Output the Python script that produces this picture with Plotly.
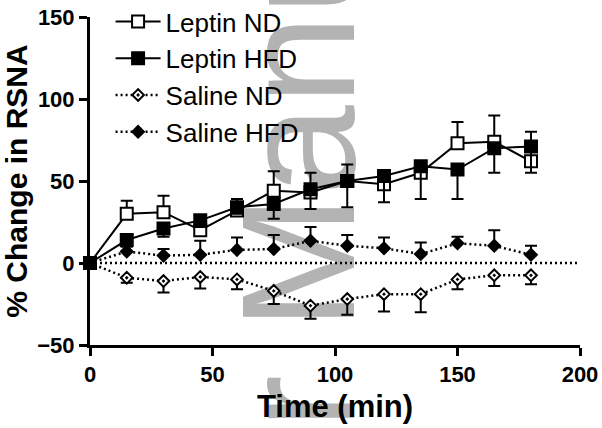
import plotly.graph_objects as go

time_min = [0, 15, 30, 45, 60, 75, 90, 105, 120, 135, 150, 165, 180]

leptin_nd = [0, 30, 31, 20, 32, 44, 43, 50, 48, 55, 73, 74, 62]
leptin_nd_err = [0, 8, 10, 5, 7, 12, 12, 10, 6, 6, 13, 16, 18]

leptin_hfd = [0, 14, 21, 26, 34, 36, 45, 50, 53, 59, 57, 70, 71]
leptin_hfd_err = [0, 4, 5, 4, 4, 9, 12, 16, 16, 20, 18, 15, 16]

saline_nd = [0, -9, -11, -8.5, -10, -17, -26, -22, -19, -19, -10, -7.5, -7.5]
saline_nd_err = [0, 3, 7, 7, 6, 8, 8, 9.5, 10.5, 11, 6, 6.5, 5.5]

saline_hfd = [0, 7, 4.5, 5, 8, 8.5, 13.5, 10.5, 9, 5.5, 12, 10.5, 5]
saline_hfd_err = [0, 3, 4, 8.5, 7.5, 8.5, 8.5, 6.5, 6.5, 7, 4, 9.5, 5.5]

zero_x = [0, 200]
zero_y = [0, 0]

x_ticks = [0, 50, 100, 150, 200]
y_ticks = [-50, 0, 50, 100, 150]

FONT = "Liberation Sans, Arial, sans-serif"
zeros = [0] * len(time_min)

fig = go.Figure()

fig.add_trace(go.Scatter(
    x=zero_x, y=zero_y, mode="lines", showlegend=False, hoverinfo="skip",
    line=dict(color="black", width=2.5, dash="2px,3px"),
))

def add_series(name, y, err, up, symbol, fill, dash, msize, lw):
    fig.add_trace(go.Scatter(
        x=time_min, y=y, name=name, mode="lines+markers", cliponaxis=False,
        line=dict(color="black", width=2 if dash == "solid" else 2.5, dash=dash),
        marker=dict(symbol=symbol, size=msize, color=fill,
                    line=dict(color="black", width=lw)),
        error_y=dict(type="data", symmetric=False,
                     array=err if up else zeros,
                     arrayminus=zeros if up else err,
                     color="black", thickness=2, width=6),
    ))

add_series("Leptin ND", leptin_nd, leptin_nd_err, True, "square", "white", "solid", 12, 2)
add_series("Leptin HFD", leptin_hfd, leptin_hfd_err, False, "square", "black", "solid", 12, 2)
add_series("Saline ND", saline_nd, saline_nd_err, False, "diamond-dot", "white", "2px,3px", 9, 2)
add_series("Saline HFD", saline_hfd, saline_hfd_err, True, "diamond", "black", "2px,3px", 9, 2)

fig.update_layout(
    width=602, height=428,
    margin=dict(l=90, r=22, t=17, b=83, autoexpand=False),
    paper_bgcolor="white", plot_bgcolor="white",
    font=dict(family=FONT, color="black"),
    showlegend=True,
    legend=dict(x=0.042, y=1.058, xanchor="left", yanchor="top",
                bgcolor="rgba(0,0,0,0)", font=dict(size=26, family=FONT),
                itemwidth=45),
    xaxis=dict(range=[0, 200], tickvals=x_ticks, showline=True, linecolor="black",
               linewidth=3, ticks="outside", ticklen=8, tickwidth=3, tickcolor="black",
               showgrid=False, zeroline=False, automargin=False,
               tickfont=dict(size=22, family=FONT, weight="bold"),
               title=dict(text="Time (min)", standoff=9,
                          font=dict(size=31, family=FONT, weight="bold"))),
    yaxis=dict(range=[-50, 150], tickvals=y_ticks, showline=True, linecolor="black",
               linewidth=3, ticks="outside", ticklen=8, tickwidth=3, tickcolor="black",
               showgrid=False, zeroline=False, automargin=False,
               tickfont=dict(size=22, family=FONT, weight="bold"),
               title=dict(text="% Change in RSNA", standoff=1,
                          font=dict(size=30, family=FONT, weight="bold"))),
    shapes=[dict(
        type="rect", xref="paper", yref="paper", x0=0.382, x1=0.402, y0=0.447, y1=0.467,
        line=dict(width=0), fillcolor="rgba(0,0,0,0)", layer="below",
        label=dict(text="Author Manuscript", textangle=-90, textposition="middle center",
                   font=dict(size=162, family=FONT, color="#b3b3b3")),
    )],
)

fig.write_html("out.html", config={"displayModeBar": False},
               post_script="document.body.style.margin='0';")
